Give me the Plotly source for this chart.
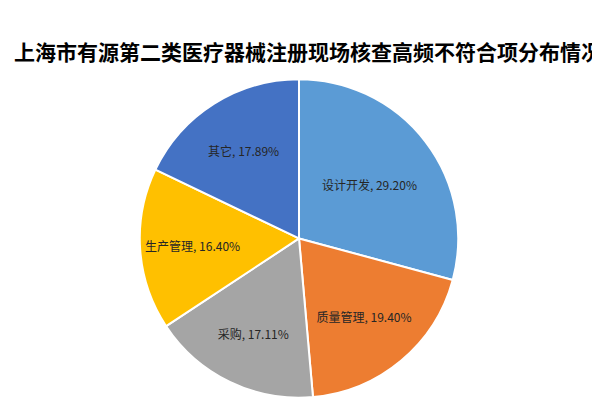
import plotly.graph_objects as go

categories = ["设计开发", "质量管理", "采购", "生产管理", "其它"]
values = [29.20, 19.40, 17.11, 16.40, 17.89]
colors = ["#5B9BD5", "#ED7D31", "#A5A5A5", "#FFC000", "#4472C4"]

fig = go.Figure(go.Pie(
    labels=categories, values=values, sort=False, direction="clockwise", rotation=0,
    marker=dict(colors=colors, line=dict(color="white", width=2)),
    texttemplate="%{label}, %{value:.2f}%", textposition="inside",
    insidetextorientation="horizontal",
    textfont=dict(family="Noto Sans CJK SC", size=12, color="#262626"),
    domain=dict(x=[0, 0.97], y=[0.07, 0.83]),
    showlegend=False,
))
fig.update_layout(
    width=600, height=419, margin=dict(l=0, r=0, t=0, b=0),
    paper_bgcolor="white",
    title=dict(text="<b>上海市有源第二类医疗器械注册现场核查高频不符合项分布情况</b>",
               x=0.5, y=0.91, xanchor="center",
               font=dict(family="Noto Sans CJK SC", size=21, color="black")),
)
fig.write_html("out.html")
